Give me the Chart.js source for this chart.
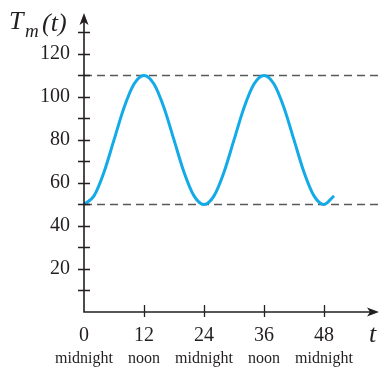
<!DOCTYPE html>
<html>
<head>
<meta charset="utf-8">
<script src="https://cdn.jsdelivr.net/npm/chart.js@4"></script>
<style>
  html, body { margin: 0; padding: 0; background: #fff; }
  #wrap { width: 380px; height: 370px; }
</style>
</head>
<body>
<div id="wrap"><canvas id="grafico" width="380" height="370"></canvas></div>
<script>
// hours since midnight and temperature
const hours = [0, 2, 4, 6, 8, 10, 12, 14, 16, 18, 20, 22, 24, 26, 28, 30, 32, 34, 36, 38, 40, 42, 44, 46, 48, 50];
const temps = [50, 54, 65, 80, 95, 106, 110, 106, 95, 80, 65, 54, 50, 54, 65, 80, 95, 106, 110, 106, 95, 80, 65, 54, 50, 54];

const xTicks = [0, 12, 24, 36, 48];
const timeNames = ['midnight', 'noon', 'midnight', 'noon', 'midnight'];
const yTicks = [20, 40, 60, 80, 100, 120];
const yMinor = [10, 30, 50, 70, 90, 110, 130];
const tMax = 110;
const tMin = 50;

const X_MAX = 59;
const serif = '"Liberation Serif", "DejaVu Serif", serif';
const ink = '#231f20';

const ctx = document.getElementById('grafico').getContext('2d');

// axes with arrows, crossing ticks, second row of labels, titles
const ejes = {
    id: 'ejes',
    afterDraw(chart) {
        const c = chart.ctx;
        const xs = chart.scales.x, ys = chart.scales.y;
        const x0 = xs.getPixelForValue(0);
        const y0 = ys.getPixelForValue(0);
        const yTop = ys.getPixelForValue(ys.max);
        const xEnd = xs.getPixelForValue(X_MAX);
        c.save();
        c.strokeStyle = ink;
        c.fillStyle = ink;
        c.lineWidth = 1.6;
        c.beginPath();
        c.moveTo(x0, yTop + 8);
        c.lineTo(x0, y0);
        c.lineTo(xEnd - 8, y0);
        c.stroke();
        // arrow heads
        c.beginPath();
        c.moveTo(x0, yTop);
        c.lineTo(x0 - 4.5, yTop + 12);
        c.lineTo(x0, yTop + 9);
        c.lineTo(x0 + 4.5, yTop + 12);
        c.closePath();
        c.fill();
        c.beginPath();
        c.moveTo(xEnd, y0);
        c.lineTo(xEnd - 12, y0 - 4.5);
        c.lineTo(xEnd - 9, y0);
        c.lineTo(xEnd - 12, y0 + 4.5);
        c.closePath();
        c.fill();
        // tick marks
        c.lineWidth = 1.3;
        c.beginPath();
        yTicks.concat(yMinor).forEach(v => {
            const p = Math.round(ys.getPixelForValue(v)) + 0.5;
            c.moveTo(x0 - 6, p);
            c.lineTo(x0 + 6, p);
        });
        xTicks.slice(1).forEach(v => {
            const p = Math.round(xs.getPixelForValue(v)) + 0.5;
            c.moveTo(p, y0 - 7);
            c.lineTo(p, y0 + 5);
        });
        c.stroke();
        // midnight / noon
        c.font = '16px ' + serif;
        c.textAlign = 'center';
        c.textBaseline = 'middle';
        xTicks.forEach((v, i) => {
            c.fillText(timeNames[i], xs.getPixelForValue(v), 359);
        });
        // t
        c.font = 'italic 26px ' + serif;
        c.textAlign = 'left';
        c.textBaseline = 'alphabetic';
        c.fillText('t', 369, 342);
        // T_m(t)
        c.fillText('T', 9, 29);
        c.font = 'italic 19px ' + serif;
        c.fillText('m', 25, 37);
        c.font = 'italic 26px ' + serif;
        c.fillText('(t)', 42, 31);
        c.restore();
    }
};

new Chart(ctx, {
    type: 'line',
    data: {
        datasets: [
            {
                data: hours.map((h, i) => ({ x: h, y: temps[i] })),
                borderColor: '#13aae8',
                borderWidth: 3,
                pointRadius: 0,
                cubicInterpolationMode: 'monotone',
                clip: false
            },
            {
                data: [{ x: 0, y: tMax }, { x: X_MAX, y: tMax }],
                borderColor: '#58595b',
                borderWidth: 1.5,
                borderDash: [8, 5],
                pointRadius: 0
            },
            {
                data: [{ x: 0, y: tMin }, { x: X_MAX, y: tMin }],
                borderColor: '#58595b',
                borderWidth: 1.5,
                borderDash: [8, 5],
                pointRadius: 0
            }
        ]
    },
    options: {
        responsive: false,
        animation: false,
        events: [],
        layout: { padding: { left: 0, right: 1, top: 13, bottom: 0 } },
        plugins: { legend: { display: false }, tooltip: { enabled: false } },
        scales: {
            x: {
                type: 'linear',
                min: 0,
                max: X_MAX,
                grid: { display: false, drawTicks: false },
                border: { display: false },
                afterBuildTicks: s => { s.ticks = xTicks.map(v => ({ value: v })); },
                afterFit: s => { s.height = 58; s.paddingLeft = 0; s.paddingRight = 0; },
                ticks: {
                    autoSkip: false,
                    maxRotation: 0,
                    padding: 12,
                    color: ink,
                    font: { family: serif, size: 20 }
                }
            },
            y: {
                min: 0,
                max: 139,
                grid: { display: false, drawTicks: false },
                border: { display: false },
                afterBuildTicks: s => { s.ticks = yTicks.map(v => ({ value: v })); },
                afterFit: s => { s.width = 84; s.paddingTop = 0; s.paddingBottom = 0; },
                ticks: {
                    autoSkip: false,
                    padding: 14,
                    color: ink,
                    font: { family: serif, size: 20 }
                }
            }
        }
    },
    plugins: [ejes]
});
</script>
</body>
</html>
